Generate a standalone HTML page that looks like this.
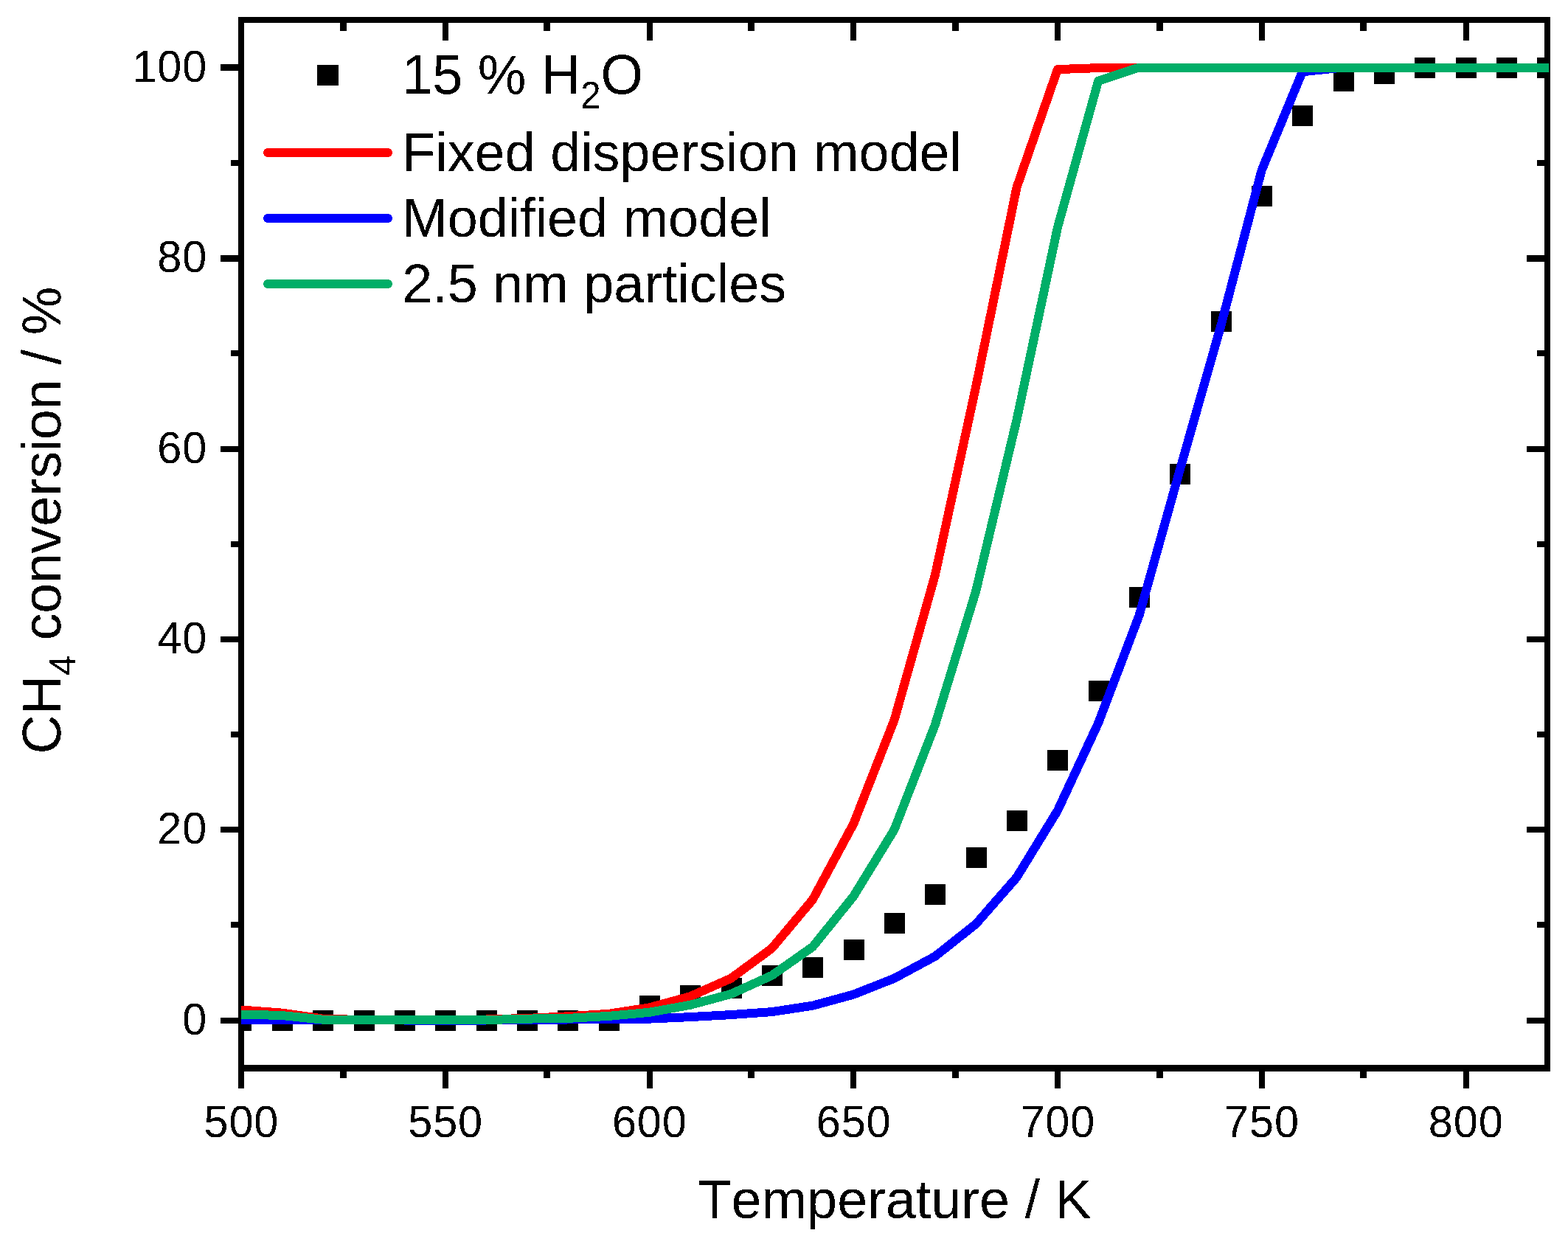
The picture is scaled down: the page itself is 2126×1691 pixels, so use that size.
<!DOCTYPE html>
<html lang="en"><head><meta charset="utf-8"><title>CH4 conversion vs temperature</title>
<style>html,body{margin:0;padding:0;background:#fff}body{width:2126px;height:1691px;overflow:hidden}svg{display:block}text{font-family:"Liberation Sans",Arial,sans-serif;fill:#000;font-kerning:none;white-space:pre}</style>
</head><body>
<svg width="2126" height="1691" viewBox="0 0 2126 1691" role="img" aria-label="CH4 conversion versus temperature">
<rect width="2126" height="1691" fill="#fff"/>
<defs><clipPath id="cp"><rect x="327" y="27" width="1773" height="1422"/></clipPath><filter id="bin" x="0" y="0" width="100%" height="100%" filterUnits="userSpaceOnUse" primitiveUnits="userSpaceOnUse" color-interpolation-filters="sRGB"><feComponentTransfer><feFuncA type="discrete" tableValues="0 1"/></feComponentTransfer></filter></defs>
<g fill="#000" shape-rendering="crispEdges">
<rect x="323" y="23" width="1779" height="8"/>
<rect x="323" y="1444" width="1779" height="9"/>
<rect x="323" y="23" width="8" height="1453"/>
<rect x="2094" y="23" width="8" height="1430"/>
<rect x="461" y="1453" width="9" height="9"/>
<rect x="461" y="31" width="9" height="11"/>
<rect x="600" y="1453" width="8" height="23"/>
<rect x="600" y="31" width="8" height="24"/>
<rect x="737" y="1453" width="9" height="9"/>
<rect x="737" y="31" width="9" height="11"/>
<rect x="877" y="1453" width="8" height="23"/>
<rect x="877" y="31" width="8" height="24"/>
<rect x="1014" y="1453" width="9" height="9"/>
<rect x="1014" y="31" width="9" height="11"/>
<rect x="1153" y="1453" width="8" height="23"/>
<rect x="1153" y="31" width="8" height="24"/>
<rect x="1291" y="1453" width="9" height="9"/>
<rect x="1291" y="31" width="9" height="11"/>
<rect x="1430" y="1453" width="8" height="23"/>
<rect x="1430" y="31" width="8" height="24"/>
<rect x="1568" y="1453" width="9" height="9"/>
<rect x="1568" y="31" width="9" height="11"/>
<rect x="1707" y="1453" width="8" height="23"/>
<rect x="1707" y="31" width="8" height="24"/>
<rect x="1844" y="1453" width="9" height="9"/>
<rect x="1844" y="31" width="9" height="11"/>
<rect x="1984" y="1453" width="8" height="23"/>
<rect x="1984" y="31" width="8" height="24"/>
<rect x="299" y="1380" width="24" height="8"/>
<rect x="2070" y="1380" width="24" height="8"/>
<rect x="313" y="1250" width="10" height="8"/>
<rect x="2084" y="1250" width="10" height="8"/>
<rect x="299" y="1121" width="24" height="8"/>
<rect x="2070" y="1121" width="24" height="8"/>
<rect x="313" y="992" width="10" height="8"/>
<rect x="2084" y="992" width="10" height="8"/>
<rect x="299" y="863" width="24" height="8"/>
<rect x="2070" y="863" width="24" height="8"/>
<rect x="313" y="734" width="10" height="8"/>
<rect x="2084" y="734" width="10" height="8"/>
<rect x="299" y="605" width="24" height="8"/>
<rect x="2070" y="605" width="24" height="8"/>
<rect x="313" y="475" width="10" height="8"/>
<rect x="2084" y="475" width="10" height="8"/>
<rect x="299" y="346" width="24" height="9"/>
<rect x="2070" y="346" width="24" height="9"/>
<rect x="313" y="217" width="10" height="8"/>
<rect x="2084" y="217" width="10" height="8"/>
<rect x="299" y="87" width="24" height="9"/>
<rect x="2070" y="87" width="24" height="9"/>
</g>
<g clip-path="url(#cp)">
<g fill="#000" shape-rendering="crispEdges">
<rect x="313" y="1370" width="28" height="28"/>
<rect x="369" y="1370" width="28" height="28"/>
<rect x="424" y="1370" width="28" height="28"/>
<rect x="480" y="1370" width="28" height="28"/>
<rect x="535" y="1370" width="28" height="28"/>
<rect x="590" y="1370" width="28" height="28"/>
<rect x="646" y="1370" width="28" height="28"/>
<rect x="701" y="1370" width="28" height="28"/>
<rect x="756" y="1370" width="28" height="28"/>
<rect x="812" y="1370" width="28" height="28"/>
<rect x="867" y="1350" width="28" height="28"/>
<rect x="922" y="1336" width="28" height="28"/>
<rect x="978" y="1326" width="28" height="28"/>
<rect x="1033" y="1309" width="28" height="28"/>
<rect x="1088" y="1298" width="28" height="28"/>
<rect x="1144" y="1274" width="28" height="28"/>
<rect x="1199" y="1238" width="28" height="28"/>
<rect x="1254" y="1199" width="28" height="28"/>
<rect x="1310" y="1149" width="28" height="28"/>
<rect x="1365" y="1099" width="28" height="28"/>
<rect x="1420" y="1017" width="28" height="28"/>
<rect x="1476" y="923" width="28" height="28"/>
<rect x="1531" y="796" width="28" height="28"/>
<rect x="1586" y="629" width="28" height="28"/>
<rect x="1642" y="422" width="28" height="28"/>
<rect x="1697" y="252" width="28" height="28"/>
<rect x="1752" y="143" width="28" height="28"/>
<rect x="1808" y="96" width="28" height="28"/>
<rect x="1863" y="86" width="28" height="28"/>
<rect x="1918" y="78" width="28" height="28"/>
<rect x="1974" y="78" width="28" height="28"/>
<rect x="2029" y="78" width="28" height="28"/>
<rect x="2084" y="78" width="28" height="28"/>
</g>
<polyline points="327.0,1369.5 382.3,1373.6 437.7,1381.6 493.0,1383.1 548.4,1383.1 603.7,1383.1 659.1,1382.5 714.4,1380.9 769.8,1378.3 825.1,1374.8 880.4,1366.4 935.8,1351.2 991.1,1326.7 1046.5,1286.0 1101.8,1220.1 1157.2,1117.3 1212.5,976.5 1267.8,780.1 1323.2,524.3 1378.5,254.3 1433.9,94.1 1489.2,92.1 1544.6,91.5 2098.0,91.5" fill="none" stroke="#ff0000" stroke-width="12" stroke-linejoin="round" stroke-linecap="square" shape-rendering="crispEdges"/>
<polyline points="327.0,1382.5 382.3,1382.5 437.7,1383.1 493.0,1383.5 548.4,1383.5 603.7,1383.5 659.1,1383.5 714.4,1383.1 769.8,1382.5 825.1,1382.2 880.4,1381.6 935.8,1379.1 991.1,1376.1 1046.5,1372.1 1101.8,1363.7 1157.2,1348.6 1212.5,1326.7 1267.8,1296.9 1323.2,1253.0 1378.5,1189.7 1433.9,1099.3 1489.2,980.4 1544.6,834.4 1599.9,636.7 1655.2,442.3 1710.6,231.0 1765.9,97.3 1821.3,91.5 2098.0,91.5" fill="none" stroke="#0000ff" stroke-width="12" stroke-linejoin="round" stroke-linecap="square" shape-rendering="crispEdges"/>
<polyline points="327.0,1375.5 382.3,1377.0 437.7,1382.7 493.0,1383.1 548.4,1383.1 603.7,1383.1 659.1,1383.1 714.4,1381.6 769.8,1380.9 825.1,1377.9 880.4,1372.8 935.8,1362.8 991.1,1348.0 1046.5,1322.8 1101.8,1284.0 1157.2,1215.5 1212.5,1125.1 1267.8,983.0 1323.2,801.5 1378.5,569.5 1433.9,308.6 1489.2,109.6 1544.6,91.5 2098.0,91.5" fill="none" stroke="#00ae68" stroke-width="12" stroke-linejoin="round" stroke-linecap="square" shape-rendering="crispEdges"/>
</g>
<g filter="url(#bin)">
<g font-size="59.5">
<text transform="translate(327.4 1542.4) scale(1 1.027)" text-anchor="middle" letter-spacing="0.85">500</text>
<text transform="translate(604.1 1542.4) scale(1 1.027)" text-anchor="middle" letter-spacing="0.85">550</text>
<text transform="translate(880.8 1542.4) scale(1 1.027)" text-anchor="middle" letter-spacing="0.85">600</text>
<text transform="translate(1157.6 1542.4) scale(1 1.027)" text-anchor="middle" letter-spacing="0.85">650</text>
<text transform="translate(1434.3 1542.4) scale(1 1.027)" text-anchor="middle" letter-spacing="0.85">700</text>
<text transform="translate(1711.0 1542.4) scale(1 1.027)" text-anchor="middle" letter-spacing="0.85">750</text>
<text transform="translate(1987.7 1542.4) scale(1 1.027)" text-anchor="middle" letter-spacing="0.85">800</text>
<text transform="translate(281.2 1402.8) scale(1 1.027)" text-anchor="end" letter-spacing="0.85">0</text>
<text transform="translate(281.2 1144.4) scale(1 1.027)" text-anchor="end" letter-spacing="0.85">20</text>
<text transform="translate(281.2 886.0) scale(1 1.027)" text-anchor="end" letter-spacing="0.85">40</text>
<text transform="translate(281.2 627.6) scale(1 1.027)" text-anchor="end" letter-spacing="0.85">60</text>
<text transform="translate(281.2 369.2) scale(1 1.027)" text-anchor="end" letter-spacing="0.85">80</text>
<text transform="translate(281.2 110.8) scale(1 1.027)" text-anchor="end" letter-spacing="0.85">100</text>
</g>
<text x="946.5" y="1652.3" font-size="73.8">Temperature / K</text>
<text transform="translate(82.3 1022.5) rotate(-90)" font-size="73.8">CH<tspan font-size="49.2" dy="20">4</tspan><tspan dy="-20" letter-spacing="-0.33"> conversion / %</tspan></text>
<rect x="430" y="88" width="29" height="28" fill="#000" stroke="none" shape-rendering="crispEdges"/>
<line x1="363" y1="207" x2="526" y2="207" stroke="#ff0000" stroke-width="12" stroke-linecap="round"/>
<line x1="363" y1="296" x2="526" y2="296" stroke="#0000ff" stroke-width="12" stroke-linecap="round"/>
<line x1="363" y1="385" x2="526" y2="385" stroke="#00ae68" stroke-width="12" stroke-linecap="round"/>
<g font-size="73.8">
<text transform="translate(545.2 127.3) scale(1 1.04)">15 % H<tspan font-size="49.2" dy="19">2</tspan><tspan dy="-19">O</tspan></text>
<text x="545.2" y="232">Fixed dispersion model</text>
<text x="545.2" y="321">Modified model</text>
<text x="545.2" y="410">2.5 nm particles</text>
</g>
</g>
</svg>
</body></html>
